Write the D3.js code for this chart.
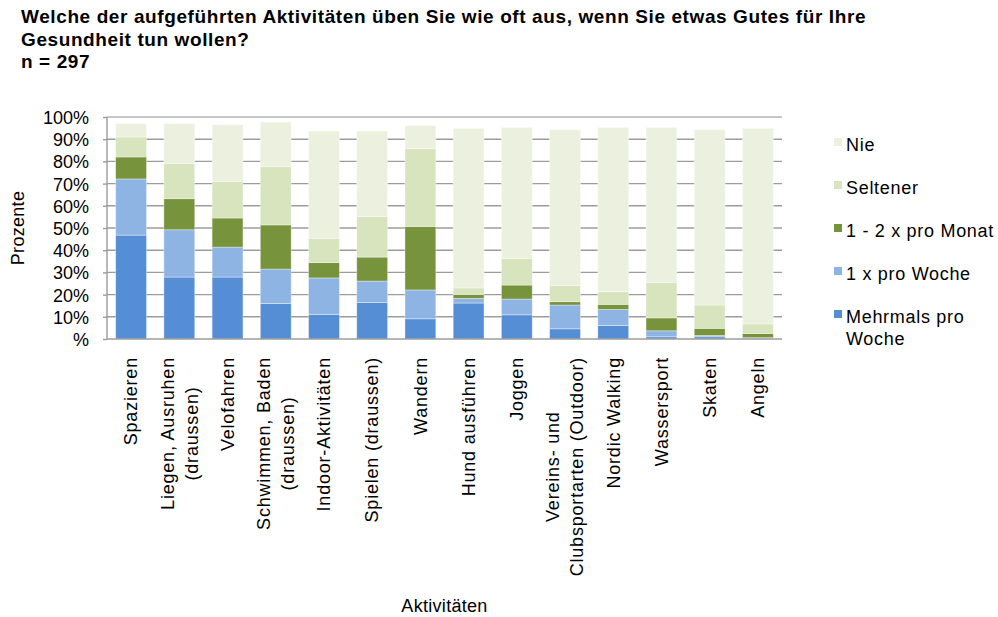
<!DOCTYPE html>
<html>
<head>
<meta charset="utf-8">
<script src="https://cdn.jsdelivr.net/npm/d3@7"></script>
<style>
  body { margin: 0; background: #fff; }
  svg text { font-family: "Liberation Sans", Arial, sans-serif; fill: #000; }
  .title { font-weight: bold; font-size: 19px; letter-spacing: 0.6px; }
</style>
</head>
<body>
<div class="chart"></div>
<script>
// activities (x categories), "\n" = line break in the label
const activities = ['Spazieren', 'Liegen, Ausruhen\n(draussen)', 'Velofahren', 'Schwimmen, Baden\n(draussen)',
  'Indoor-Aktivitäten', 'Spielen (draussen)', 'Wandern', 'Hund ausführen', 'Joggen',
  'Vereins- und\nClubsportarten (Outdoor)', 'Nordic Walking', 'Wassersport', 'Skaten', 'Angeln'];

// series in stack order, bottom to top (percent)
const mehrmalsProWoche = [46.8, 27.9, 27.9, 16.0, 11.1, 16.5, 9.1, 16.2, 10.9, 4.6, 6.1, 1.0, 1.0, 0.3];
const einmalProWoche   = [25.3, 21.3, 13.5, 15.5, 16.4, 9.6, 13.0, 2.1, 7.1, 10.7, 7.2, 2.7, 0.6, 0.3];
const proMonat         = [9.9, 14.0, 13.1, 19.9, 6.9, 10.8, 28.6, 1.7, 6.3, 1.5, 2.3, 5.8, 3.2, 1.9];
const seltener         = [9.0, 15.8, 16.5, 26.2, 10.9, 18.3, 35.0, 3.0, 11.9, 7.3, 5.7, 15.9, 10.5, 4.3];
const nie              = [6.0, 18.0, 25.5, 20.1, 48.4, 38.5, 10.4, 71.9, 59.1, 70.2, 74.0, 69.9, 79.0, 88.1];

const seriesNames = ['Mehrmals pro Woche', '1 x pro Woche', '1 - 2 x pro Monat', 'Seltener', 'Nie'];
const seriesValues = [mehrmalsProWoche, einmalProWoche, proMonat, seltener, nie];
const colors = ['#558ed5', '#8eb4e3', '#77933c', '#d7e4bd', '#ebf1de'];
const yTicks = [0, 10, 20, 30, 40, 50, 60, 70, 80, 90, 100];

const margin = ({top: 117, right: 216, bottom: 278, left: 107});
const width = 998 - margin.left - margin.right;
const height = 617 - margin.top - margin.bottom;

const root = d3.select('.chart').append('svg')
  .attr('width', 998)
  .attr('height', 617);

// title
const titleLines = ['Welche der aufgeführten Aktivitäten üben Sie wie oft aus, wenn Sie etwas Gutes für Ihre',
  'Gesundheit tun wollen?', 'n = 297'];
root.append('text')
  .attr('class', 'title')
  .selectAll('tspan')
  .data(titleLines)
  .enter()
  .append('tspan')
  .attr('x', 21)
  .attr('y', (d, i) => 23 + i * 22.5)
  .text(d => d);

const svg = root.append('g')
  .attr('transform', `translate(${margin.left},${margin.top})`);

const table = activities.map((a, i) => {
  const row = {activity: a};
  seriesNames.forEach((s, j) => row[s] = seriesValues[j][i]);
  return row;
});

const xScale = d3.scaleBand()
  .domain(activities)
  .range([0, width])
  .paddingInner(0.36)
  .paddingOuter(0.18);

const yScale = d3.scaleLinear()
  .domain([0, 100])
  .range([height, 0]);

const colorScale = d3.scaleOrdinal()
  .domain(seriesNames)
  .range(colors);

// gridlines
svg.append('g')
  .selectAll('line')
  .data(yTicks.filter(d => d > 0))
  .enter()
  .append('line')
  .attr('x1', 0)
  .attr('x2', width)
  .attr('y1', d => yScale(d))
  .attr('y2', d => yScale(d))
  .attr('stroke', d => d === 100 ? '#b3b3b3' : '#9c9c9c')
  .attr('stroke-width', 1.4);

const stacked = d3.stack().keys(seriesNames)(table);

svg.append('g')
  .selectAll('g')
  .data(stacked)
  .enter()
  .append('g')
  .attr('fill', d => colorScale(d.key))
  .selectAll('rect')
  .data(d => d)
  .enter()
  .append('rect')
  .attr('x', d => xScale(d.data.activity))
  .attr('width', xScale.bandwidth())
  .attr('y', d => yScale(d[1]))
  .attr('height', d => yScale(d[0]) - yScale(d[1]))
  .attr('stroke', 'rgba(255,255,255,0.45)')
  .attr('stroke-width', 0.8);

// y axis
const yAxis = d3.axisLeft(yScale)
  .tickValues(yTicks)
  .tickSize(4)
  .tickPadding(14)
  .tickFormat(d => d === 0 ? '%' : d + '%');

svg.append('g')
  .attr('class', 'axis y-axis')
  .call(yAxis)
  .call(g => g.select('.domain').attr('stroke', '#9c9c9c').attr('stroke-width', 1.4).attr('d', `M0,0V${height}`))
  .call(g => g.selectAll('.tick line').attr('stroke', '#9c9c9c').attr('stroke-width', 1.4))
  .call(g => g.selectAll('.tick text').attr('font-size', 18).attr('font-family', null).attr('dy', '0.36em'));

// x axis line
svg.append('line')
  .attr('x1', 0)
  .attr('x2', width)
  .attr('y1', height)
  .attr('y2', height)
  .attr('stroke', '#9c9c9c')
  .attr('stroke-width', 1.4);

// x labels, rotated, lines centred on each other
const lineHeight = 24;
const labels = svg.append('g')
  .selectAll('g')
  .data(activities)
  .enter()
  .append('g')
  .attr('transform', d => `translate(${xScale(d) + xScale.bandwidth() / 2},${height + 18}) rotate(-90)`);

labels.each(function(d) {
  const g = d3.select(this);
  const lines = d.split('\n');
  const texts = lines.map((l, i) => g.append('text')
    .attr('font-size', 18)
    .attr('letter-spacing', '0.8px')
    .attr('text-anchor', 'middle')
    .attr('y', (i - (lines.length - 1) / 2) * lineHeight)
    .attr('dy', '0.35em')
    .text(l));
  const maxW = d3.max(texts, t => t.node().getComputedTextLength());
  texts.forEach(t => t.attr('x', -maxW / 2));
});

// axis titles
svg.append('text')
  .attr('x', width / 2)
  .attr('y', 495)
  .attr('text-anchor', 'middle')
  .attr('font-size', 18)
  .attr('letter-spacing', '0.3px')
  .text('Aktivitäten');

svg.append('text')
  .attr('transform', `translate(${18 - margin.left},${height / 2}) rotate(-90)`)
  .attr('text-anchor', 'middle')
  .attr('dy', '0.35em')
  .attr('font-size', 18)
  .attr('letter-spacing', '0.3px')
  .text('Prozente');

// legend, top entry is the top of the stack
const legendItems = seriesNames.slice().reverse();
const legend = root.selectAll('.legend')
  .data(legendItems)
  .enter()
  .append('g')
  .attr('class', 'legend')
  .attr('transform', (d, i) => `translate(834,${151 + i * 43})`);

legend.append('rect')
  .attr('y', -13)
  .attr('width', 8)
  .attr('height', 8)
  .attr('fill', colorScale);

legend.append('text')
  .attr('x', 12)
  .attr('font-size', 18)
  .attr('letter-spacing', '0.7px')
  .selectAll('tspan')
  .data(d => d === 'Mehrmals pro Woche' ? ['Mehrmals pro', 'Woche'] : [d])
  .enter()
  .append('tspan')
  .attr('x', 12)
  .attr('dy', (d, i) => i === 0 ? 0 : 22)
  .text(d => d);
</script>
</body>
</html>
